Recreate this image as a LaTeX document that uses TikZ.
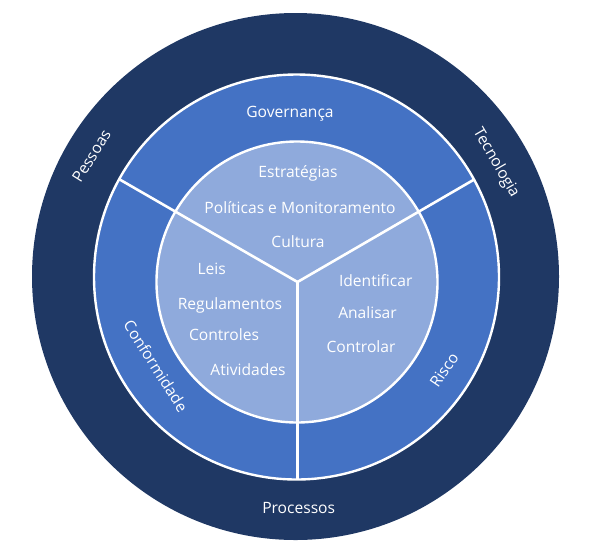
\documentclass[tikz,border=0pt]{standalone}
\usepackage{fontspec}
\setmainfont{Open Sans}
\definecolor{navy}{HTML}{1F3864}
\definecolor{midblue}{HTML}{4472C4}
\definecolor{lightblue}{HTML}{8FAADC}
\begin{document}
\begin{tikzpicture}[x=1pt,y=-1pt,
  lbl/.style={text=white,font=\fontsize{15.6}{17}\selectfont,inner sep=0pt,anchor=base},
  rlbl/.style={text=white,font=\fontsize{15.6}{17}\selectfont,inner sep=0pt},
  sep/.style={draw=white,line width=2.6pt}]
\useasboundingbox (0,0) rectangle (594,558);
% rings
\fill[navy] (295.5,276.5) circle[radius=263.5];
\filldraw[fill=midblue,draw=white,line width=2.4pt] (296.5,277) circle[radius=202.5];
\filldraw[fill=lightblue,draw=white,line width=2.4pt] (297,282) circle[radius=140.5];
% separators
\coordinate (J) at (297.5,282);
\coordinate (E1) at (118.5,178.8);
\coordinate (E2) at (474,179.6);
\coordinate (E3) at (297.5,479);
\draw[sep] (J) -- (E1);
\draw[sep] (J) -- (E2);
\draw[sep] (J) -- (E3);
% outer labels
\node[rlbl,rotate=58] (pes) at (91.5,156) {Pessoas};
\node[rlbl,rotate=-60] (tec) at (496,163) {Tecnologia};
\node[lbl] (proc) at (298.7,513) {Processos};
% middle labels
\node[lbl] (gov) at (290,117) {Governança};
\node[rlbl,rotate=-57.6] (conf) at (156,366) {Conformidade};
\node[rlbl,rotate=56] (risco) at (444,370) {Risco};
% inner texts
\node[lbl] (t1) at (298,177) {Estratégias};
\node[lbl] (t2) at (300,213) {Políticas e Monitoramento};
\node[lbl] (t3) at (298,247) {Cultura};
\node[lbl] (l1) at (211.7,274) {Leis};
\node[lbl] (l2) at (230,309) {Regulamentos};
\node[lbl] (l3) at (224,340) {Controles};
\node[lbl] (l4) at (248,375) {Atividades};
\node[lbl] (r1) at (375.7,286) {Identificar};
\node[lbl] (r2) at (367.5,318) {Analisar};
\node[lbl] (r3) at (361,352) {Controlar};
\end{tikzpicture}
\end{document}
